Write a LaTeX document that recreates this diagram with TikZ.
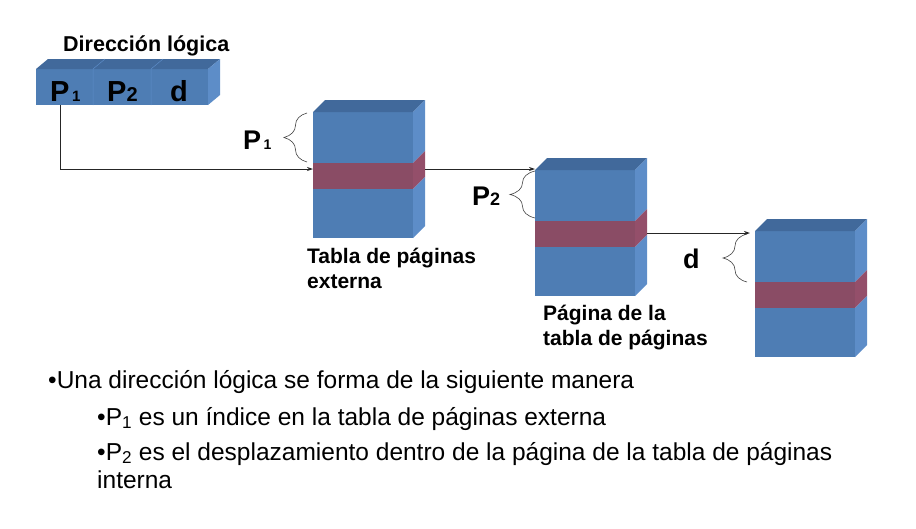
\documentclass[tikz,border=0pt]{standalone}
\usepackage{fontspec}
\setmainfont{Liberation Sans}
\usetikzlibrary{arrows.meta,decorations.pathreplacing}

\definecolor{azul}{HTML}{4E7DB4}
\definecolor{azullado}{HTML}{5D8DC8}
\definecolor{azultapa}{HTML}{41699B}
\definecolor{rojo}{HTML}{8A4C65}
\definecolor{rojolado}{HTML}{944F6A}

\newcommand{\pila}[2]{%
	\fill[azul] (#1,#2) rectangle ++(100,51);
	\fill[rojo] (#1,#2+51) rectangle ++(100,26);
	\fill[azul] (#1,#2+77) rectangle ++(100,49);
	\fill[azultapa] (#1,#2) -- ++(12,-12) -- ++(100,0) -- ++(-12,12) -- cycle;
	\fill[azullado] (#1+100,#2) -- ++(12,-12) -- ++(0,51) -- ++(-12,12) -- cycle;
	\fill[rojolado] (#1+100,#2+51) -- ++(12,-12) -- ++(0,26) -- ++(-12,12) -- cycle;
	\fill[azullado] (#1+100,#2+77) -- ++(12,-12) -- ++(0,49) -- ++(-12,12) -- cycle;
}

\begin{document}
\begin{tikzpicture}[x=1pt, y=-1pt,
		texto/.style={anchor=base west, inner sep=0pt},
		flecha/.style={draw=black!85, line width=0.8pt, -{Stealth[length=6pt, width=4pt]}},
		llave/.style={draw=black!75, line width=0.6pt, decorate, decoration={brace, amplitude=#1}}]
		\useasboundingbox (0,0) rectangle (916,528);
		
		\fill[azul] (36,69) rectangle (208,105);
		\fill[azultapa] (36,69) -- (48,59) -- (220,59) -- (208,69) -- cycle;
		\fill[azullado] (208,69) -- (220,59) -- (220,95) -- (208,105) -- cycle;
		\draw[azullado, line width=0.5pt] (93,69) -- (93,105) (93,69) -- (105,59);
		\draw[azullado, line width=0.5pt] (151,69) -- (151,105) (151,69) -- (163,59);
		
		\node[texto, font=\bfseries\fontsize{21.5}{21.5}\selectfont] (titulo) at (63,51) {Dirección lógica};
		\node[texto, font=\bfseries\fontsize{29}{29}\selectfont] (dirP1) at (50,101) {P{\fontsize{15}{15}\selectfont\,1}};
		\node[texto, font=\bfseries\fontsize{29}{29}\selectfont] (dirP2) at (107,101) {P{\fontsize{20}{20}\selectfont 2}};
		\node[texto, font=\bfseries\fontsize{29}{29}\selectfont] (dirD) at (170,101) {d};
		
		\pila{313}{112}
		\pila{535}{170}
		\pila{755}{231}
		
		\coordinate (salida1) at (60,105);
		\coordinate (entrada1) at (313,169);
		\coordinate (salida2) at (425,169);
		\coordinate (entrada2) at (535,169);
		\coordinate (salida3) at (647,233);
		\coordinate (entrada3) at (750,233);
		
		\draw[flecha] (salida1) |- (entrada1);
		\draw[flecha] (salida2) -- (entrada2);
		\draw[flecha] (salida3) -- (entrada3);
		
		\draw[llave=23pt] (307,162) -- (307,113);
		\draw[llave=25pt] (535,218) -- (535,171);
		\draw[llave=24pt] (747,282) -- (747,234);
		
		\node[texto, font=\bfseries\fontsize{27}{27}\selectfont] (etqP1) at (243,149) {P{\fontsize{14}{14}\selectfont\,1}};
		\node[texto, font=\bfseries\fontsize{27}{27}\selectfont] (etqP2) at (472,205) {P{\fontsize{18}{18}\selectfont 2}};
		\node[texto, font=\bfseries\fontsize{27}{27}\selectfont] (etqD) at (683,268) {d};
		
		\node[texto, font=\bfseries\fontsize{21}{21}\selectfont] (externa1) at (307,263) {Tabla de páginas};
		\node[texto, font=\bfseries\fontsize{21}{21}\selectfont] (externa2) at (307,288) {externa};
		\node[texto, font=\bfseries\fontsize{21}{21}\selectfont] (pagina1) at (543,320) {Página de la};
		\node[texto, font=\bfseries\fontsize{21}{21}\selectfont] (pagina2) at (543,345) {tabla de páginas};
		
		\node[texto, font=\fontsize{24.5}{24.5}\selectfont] (linea1) at (48,388) {•Una dirección lógica se forma de la siguiente manera};
		\node[texto, font=\fontsize{24.5}{24.5}\selectfont] (linea2) at (97,425) {•P\textsubscript{1} es un índice en la tabla de páginas externa};
		\node[texto, font=\fontsize{24.5}{24.5}\selectfont] (linea3) at (97,460) {•P\textsubscript{2} es el desplazamiento dentro de la página de la tabla de páginas};
		\node[texto, font=\fontsize{24.5}{24.5}\selectfont] (linea4) at (97,488) {interna};
	\end{tikzpicture}
\end{document}
